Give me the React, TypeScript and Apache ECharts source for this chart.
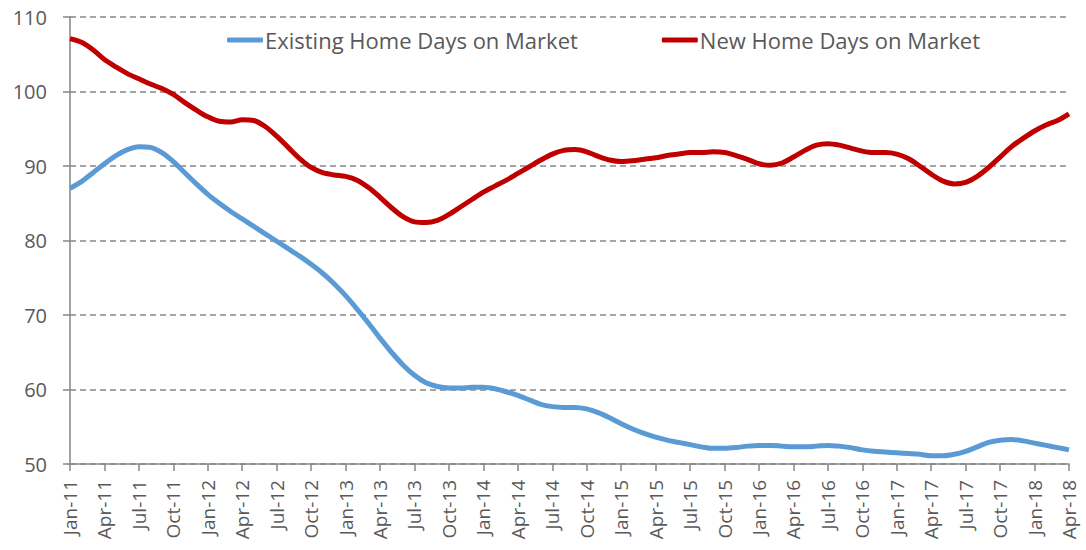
import React, { useEffect, useRef } from "react";
import * as echarts from "echarts";

const monthNames = ["Jan", "Feb", "Mar", "Apr", "May", "Jun", "Jul", "Aug", "Sep", "Oct", "Nov", "Dec"];
const categories: string[] = [];
for (let y = 11; y <= 18; y++) {
  for (let m = 0; m < 12; m++) {
    if (y === 18 && m > 3) break;
    categories.push(`${monthNames[m]}-${y}`);
  }
}

const existingDays = [
  87.0, 87.9, 89.1, 90.3, 91.4, 92.2, 92.6, 92.5, 91.8, 90.6, 89.1, 87.6,
  86.2, 85.0, 83.9, 82.9, 81.9, 80.9, 79.9, 78.9, 77.9, 76.8, 75.6, 74.2,
  72.6, 70.8, 68.9, 66.9, 65.0, 63.3, 61.9, 60.9, 60.4, 60.2, 60.2, 60.3,
  60.3, 60.1, 59.7, 59.2, 58.6, 58.0, 57.7, 57.6, 57.6, 57.4, 56.9, 56.2,
  55.4, 54.7, 54.1, 53.6, 53.2, 52.9, 52.6, 52.3, 52.1, 52.1, 52.2, 52.4,
  52.5, 52.5, 52.4, 52.3, 52.3, 52.4, 52.5, 52.4, 52.2, 51.9, 51.7, 51.6,
  51.5, 51.4, 51.3, 51.1, 51.1, 51.3, 51.7, 52.3, 52.9, 53.2, 53.3, 53.1,
  52.8, 52.5, 52.2, 51.9,
];

const newDays = [
  107.1, 106.6, 105.6, 104.3, 103.3, 102.4, 101.7, 101.0, 100.4, 99.6, 98.5, 97.5,
  96.6, 96.0, 95.9, 96.2, 96.1, 95.3, 94.0, 92.5, 91.0, 89.8, 89.1, 88.8,
  88.6, 88.1, 87.1, 85.8, 84.4, 83.2, 82.5, 82.4, 82.7, 83.5, 84.5, 85.5,
  86.5, 87.3, 88.1, 89.0, 89.9, 90.8, 91.6, 92.1, 92.2, 91.9, 91.3, 90.8,
  90.6, 90.7, 90.9, 91.1, 91.4, 91.6, 91.8, 91.8, 91.9, 91.8, 91.4, 90.9,
  90.3, 90.1, 90.4, 91.2, 92.1, 92.8, 93.0, 92.8, 92.4, 92.0, 91.8, 91.8,
  91.6, 91.0, 90.0, 88.9, 88.0, 87.6, 87.8, 88.6, 89.8, 91.2, 92.6, 93.7,
  94.7, 95.5, 96.1, 97.0,
];

const FONT = "'Open Sans', 'Noto Sans', sans-serif";

export default function App() {
  const ref = useRef<HTMLDivElement>(null);
  useEffect(() => {
    if (!ref.current) return;
    const chart = echarts.init(ref.current, null, { renderer: "svg" });
    chart.setOption({
      animation: false,
      textStyle: { fontFamily: FONT },
      grid: { left: 70, right: 17, top: 17, bottom: 86, containLabel: false },
      legend: {
        top: 24,
        left: 222,
        itemWidth: 36,
        itemHeight: 5,
        itemGap: 84,
        icon: "roundRect",
        textStyle: { fontSize: 22, color: "#595959", fontFamily: FONT, padding: [0, 0, 0, -3] },
        data: ["Existing Home Days on Market", "New Home Days on Market"],
      },
      xAxis: {
        type: "category",
        data: categories,
        boundaryGap: false,
        axisLine: { lineStyle: { color: "#868686", width: 1.5 } },
        axisTick: { interval: 2, length: 7, lineStyle: { color: "#868686", width: 1.5 } },
        axisLabel: {
          interval: 2,
          rotate: 90,
          fontSize: 19,
          color: "#595959",
          fontFamily: FONT,
          margin: 16,
        },
        splitLine: { show: false },
      },
      yAxis: {
        type: "value",
        min: 50,
        max: 110,
        interval: 10,
        axisLine: { show: true, lineStyle: { color: "#868686", width: 1.5 } },
        axisTick: { show: true, length: 7, lineStyle: { color: "#868686", width: 1.5 } },
        axisLabel: { fontSize: 20, color: "#595959", fontFamily: FONT, margin: 23 },
        splitLine: { lineStyle: { color: "#868686", type: [6, 4], width: 1.5 } },
      },
      series: [
        {
          name: "Existing Home Days on Market",
          type: "line",
          data: existingDays,
          smooth: 0.3,
          symbol: "none",
          lineStyle: { color: "#5B9BD5", width: 5 },
          itemStyle: { color: "#5B9BD5" },
        },
        {
          name: "New Home Days on Market",
          type: "line",
          data: newDays,
          smooth: 0.3,
          symbol: "none",
          lineStyle: { color: "#C00000", width: 5 },
          itemStyle: { color: "#C00000" },
        },
      ],
    });
    return () => chart.dispose();
  }, []);
  return <div ref={ref} style={{ width: 1086, height: 550, position: "absolute", left: 0, top: 0 }} />;
}
